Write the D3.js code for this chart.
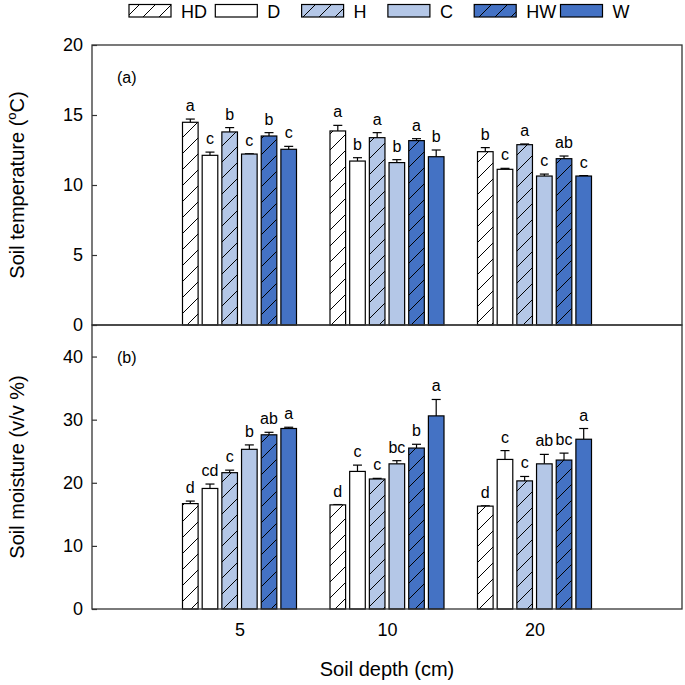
<!DOCTYPE html>
<html><head><meta charset="utf-8">
<script src="https://cdn.jsdelivr.net/npm/d3@7/dist/d3.min.js"></script>
<style>body{margin:0;background:#fff}svg{display:block}text{font-family:"Liberation Sans",Arial,sans-serif;fill:#000}</style>
</head><body><svg id="c" width="685" height="685"></svg>
<script>
const depths = ["5", "10", "20"];
const series = ["HD", "D", "H", "C", "HW", "W"];
const tempVals = [
  [14.48, 12.12, 13.79, 12.21, 13.50, 12.55],
  [13.86, 11.71, 13.38, 11.60, 13.17, 12.02],
  [12.38, 11.12, 12.88, 10.64, 11.88, 10.64]];
const tempErr = [
  [0.23, 0.23, 0.31, 0.02, 0.24, 0.21],
  [0.40, 0.24, 0.36, 0.21, 0.14, 0.48],
  [0.29, 0.07, 0.05, 0.14, 0.19, 0.03]];
const tempLetters = [
  ["a", "c", "b", "c", "b", "c"],
  ["a", "b", "a", "b", "a", "b"],
  ["b", "c", "a", "c", "ab", "c"]];
const moistVals = [
  [16.7, 19.1, 21.6, 25.3, 27.6, 28.6],
  [16.5, 21.8, 20.6, 23.0, 25.5, 30.6],
  [16.3, 23.7, 20.3, 23.0, 23.6, 26.9]];
const moistErr = [
  [0.4, 0.7, 0.4, 0.7, 0.4, 0.2],
  [0.05, 1.0, 0.1, 0.5, 0.6, 2.6],
  [0.05, 1.4, 0.7, 1.5, 1.1, 1.7]];
const moistLetters = [
  ["d", "cd", "c", "b", "ab", "a"],
  ["d", "c", "c", "bc", "b", "a"],
  ["d", "c", "c", "ab", "bc", "a"]];
const tempTicks = [0, 5, 10, 15, 20];
const moistTicks = [0, 10, 20, 30, 40];

const fills = {HD: "#ffffff", D: "#ffffff", H: "#b4c7e7", C: "#b4c7e7", HW: "#4472c4", W: "#4472c4"};
const hatched = {HD: true, D: false, H: true, C: false, HW: true, W: false};

const svg = d3.select("#c");
const defs = svg.append("defs");
const P = 16;
series.forEach(s => {
  if (!hatched[s]) return;
  const p = defs.append("pattern").attr("id", "pat" + s).attr("patternUnits", "userSpaceOnUse")
    .attr("width", P).attr("height", P);
  p.append("rect").attr("width", P).attr("height", P).attr("fill", fills[s]);
  p.append("path").attr("d", `M-1,${P + 1} L${P + 1},-1 M-4,4 L4,-4 M${P - 4},${P + 4} L${P + 4},${P - 4}`)
    .attr("stroke", "#000").attr("stroke-width", 1);
});
const fillOf = s => hatched[s] ? `url(#pat${s})` : fills[s];

const L = 92, R = 682;
const x = d3.scalePoint().domain(depths).range([L, R]).padding(1);
const xs = d3.scaleBand().domain(series).range([-57, 57]).paddingInner(0.207).paddingOuter(0);

const yT = d3.scaleLinear().domain([0, 20]).range([325, 45]);
const yM = d3.scaleLinear().domain([0, 45]).range([609, 325]);

function panel(y, vals, errs, letters, ticks, label, title, titleSup) {
  const g = svg.append("g");
  const [y0, y1] = y.range();
  depths.forEach((d, di) => {
    series.forEach((s, si) => {
      const bx = x(d) + xs(s), bw = xs.bandwidth();
      const v = vals[di][si], e = errs[di][si];
      const cx = bx + bw / 2;
      g.append("line").attr("x1", cx).attr("x2", cx).attr("y1", y(v)).attr("y2", y(v + e)).attr("stroke", "#000").attr("stroke-width", 1.2);
      g.append("line").attr("x1", cx - 4.5).attr("x2", cx + 4.5).attr("y1", y(v + e)).attr("y2", y(v + e)).attr("stroke", "#000").attr("stroke-width", 1.2);
      g.append("rect").attr("x", bx).attr("y", y(v)).attr("width", bw).attr("height", y(0) - y(v))
        .attr("fill", fillOf(s)).attr("stroke", "#000").attr("stroke-width", 1.2);
      g.append("text").attr("x", cx).attr("y", y(v + e) - 8).attr("text-anchor", "middle")
        .attr("font-size", 16).text(letters[di][si]);
    });
  });
  g.append("rect").attr("x", L).attr("y", y1).attr("width", R - L).attr("height", y0 - y1)
    .attr("fill", "none").attr("stroke", "#333").attr("stroke-width", 1.3);
  const ax = g.append("g").attr("transform", `translate(${L},0)`)
    .call(d3.axisLeft(y).tickValues(ticks).tickSizeInner(-5).tickSizeOuter(0).tickPadding(9));
  ax.select(".domain").remove();
  ax.selectAll("line").attr("stroke", "#333").attr("stroke-width", 1.2);
  ax.selectAll("text").attr("font-size", 18).attr("font-family", "Liberation Sans, Arial, sans-serif");
  g.append("text").attr("x", 117).attr("y", y1 + 38).attr("font-size", 16).text(label);
  const t = g.append("text").attr("transform", `translate(24,${(y0 + y1) / 2}) rotate(-90)`)
    .attr("text-anchor", "middle").attr("font-size", 20);
  t.append("tspan").text(title);
  if (titleSup) {
    t.append("tspan").attr("font-size", 13).attr("dy", -8).text("o");
    t.append("tspan").attr("dy", 8).text("C)");
  }
}
panel(yT, tempVals, tempErr, tempLetters, tempTicks, "(a)", "Soil temperature (", true);
panel(yM, moistVals, moistErr, moistLetters, moistTicks, "(b)", "Soil moisture (v/v %)", false);

const xa = svg.append("g").attr("transform", "translate(0,609)")
  .call(d3.axisBottom(x).tickSize(0).tickPadding(14));
xa.select(".domain").remove();
xa.selectAll("text").attr("font-size", 18).attr("font-family", "Liberation Sans, Arial, sans-serif");
svg.append("text").attr("x", 387).attr("y", 676).attr("text-anchor", "middle").attr("font-size", 20).text("Soil depth (cm)");

const lg = svg.append("g");
series.forEach((s, i) => {
  const lx = 129 + i * 86.3;
  lg.append("rect").attr("x", lx).attr("y", 4.5).attr("width", 42).attr("height", 12.5)
    .attr("fill", fillOf(s)).attr("stroke", "#000").attr("stroke-width", 1.2);
  lg.append("text").attr("x", lx + 52).attr("y", 18).attr("font-size", 18).text(s);
});
</script></body></html>
